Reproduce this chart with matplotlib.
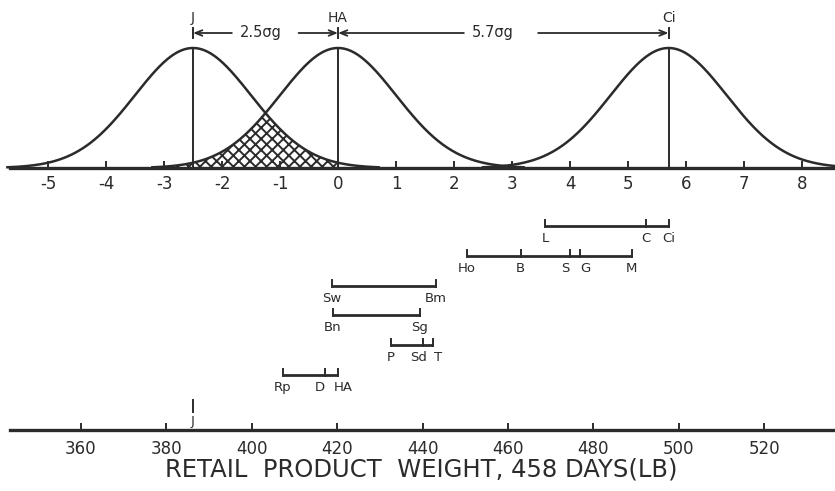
import numpy as np
import matplotlib
matplotlib.use("Agg")
import matplotlib.pyplot as plt

# ---------------- data ----------------
# upper panel: breed means on a genetic-standard-deviation scale
sigma_ticks = [-5, -4, -3, -2, -1, 0, 1, 2, 3, 4, 5, 6, 7, 8]
curve_names = ["J", "HA", "Ci"]
curve_means = [-2.5, 0.0, 5.7]
gap_labels = ["2.5\u03c3g", "5.7\u03c3g"]

# lower panel: retail product weight (lb) at 458 days, one range bar per group
weight_ticks = [360, 380, 400, 420, 440, 460, 480, 500, 520]
row_lc_names = ["L", "C", "Ci"]
row_lc_vals = [468.7, 492.3, 497.7]
row_ho_names = ["Ho", "B", "S", "G", "M"]
row_ho_vals = [450.4, 463.0, 474.5, 476.9, 489.0]
row_sw_names = ["Sw", "Bm"]
row_sw_vals = [418.8, 443.1]
row_bn_names = ["Bn", "Sg"]
row_bn_vals = [419.0, 439.4]
row_p_names = ["P", "Sd", "T"]
row_p_vals = [432.6, 440.1, 442.4]
row_rp_names = ["Rp", "D", "HA"]
row_rp_vals = [407.3, 417.1, 420.2]
single_name = "J"
single_val = 386.2
xlabel = "RETAIL  PRODUCT  WEIGHT, 458 DAYS(LB)"

# bottom row first
rows = [(row_rp_names, row_rp_vals), (row_p_names, row_p_vals),
        (row_bn_names, row_bn_vals), (row_sw_names, row_sw_vals),
        (row_ho_names, row_ho_vals), (row_lc_names, row_lc_vals)]

# ---------------- style ----------------
INK = "#2b2b2b"
plt.rcParams["font.family"] = ["DejaVu Sans"]
plt.rcParams["hatch.linewidth"] = 1.4
plt.rcParams["hatch.color"] = INK

W, H = 835, 491
fig = plt.figure(figsize=(W / 100, H / 100), dpi=100)
fig.patch.set_facecolor("white")

# ---------------- upper panel ----------------
px_per_sigma = 58.0
x0_px = 338.0
top_axis_px = 168.0
peak_px = 120.0
ax1 = fig.add_axes([0, (H - top_axis_px) / H, 1, top_axis_px / H])
ax1.set_xlim(-x0_px / px_per_sigma, (W - x0_px) / px_per_sigma)
ax1.set_ylim(0, top_axis_px / peak_px)
for s in ["top", "left", "right"]:
    ax1.spines[s].set_visible(False)
ax1.spines["bottom"].set_linewidth(2.4)
ax1.spines["bottom"].set_color(INK)
ax1.spines["bottom"].set_bounds((10 - x0_px) / px_per_sigma, (W - x0_px) / px_per_sigma)
ax1.set_yticks([])
ax1.set_xticks(sigma_ticks)
ax1.set_xticklabels([str(t) for t in sigma_ticks])
ax1.tick_params(axis="x", direction="in", length=5, width=1.4, pad=5,
                labelsize=12, colors=INK)
ax1.patch.set_alpha(0)


def gauss(x, mu):
    return np.exp(-0.5 * (x - mu) ** 2)


xmin, xmax = ax1.get_xlim()
for mu in curve_means:
    xs = np.linspace(max(mu - 3.2, xmin), min(mu + 3.2, xmax), 400)
    ax1.plot(xs, gauss(xs, mu), color=INK, lw=1.8, clip_on=False)
    ax1.plot([mu, mu], [0, 1], color=INK, lw=1.4)

# overlap between the first two distributions
xo = np.linspace(curve_means[0] - 0.5, curve_means[1], 300)
yo = np.minimum(gauss(xo, curve_means[0]), gauss(xo, curve_means[1]))
ax1.fill_between(xo, 0, yo, facecolor="white", edgecolor=INK, hatch="xxx", linewidth=0)

name_y = (top_axis_px - 18) / peak_px
arrow_y = (top_axis_px - 33) / peak_px
for name, mu in zip(curve_names, curve_means):
    ax1.text(mu, name_y, name, ha="center", va="center", fontsize=10, color=INK)
    ax1.plot([mu, mu], [arrow_y - 0.045, arrow_y + 0.045], color=INK, lw=1.4)

text_offsets = [-0.08, -0.18]
half_w = [0.5, 0.5]
gaps = [0.15, 0.28]
for i, lab in enumerate(gap_labels):
    a, b = curve_means[i], curve_means[i + 1]
    c = (a + b) / 2 + text_offsets[i]
    ax1.text(c, arrow_y, lab, ha="center", va="center", fontsize=10.5, color=INK)
    ax1.annotate("", xy=(a, arrow_y), xytext=(c - half_w[i], arrow_y),
                 arrowprops=dict(arrowstyle="->,head_length=0.5,head_width=0.2",
                                 color=INK, lw=1.3, shrinkA=0, shrinkB=0))
    ax1.annotate("", xy=(b, arrow_y), xytext=(c + half_w[i] + gaps[i], arrow_y),
                 arrowprops=dict(arrowstyle="->,head_length=0.5,head_width=0.2",
                                 color=INK, lw=1.3, shrinkA=0, shrinkB=0))

# ---------------- lower panel ----------------
px_per_lb = 4.27
x360_px = 81.0
bot_axis_px = 430.0
bot_top_px = 200.0
ax2 = fig.add_axes([0, (H - bot_axis_px) / H, 1, (bot_axis_px - bot_top_px) / H])
ax2.set_xlim(360 - x360_px / px_per_lb, 360 + (W - x360_px) / px_per_lb)
ax2.set_ylim(0, bot_axis_px - bot_top_px)
for s in ["top", "left", "right"]:
    ax2.spines[s].set_visible(False)
ax2.spines["bottom"].set_linewidth(2.4)
ax2.spines["bottom"].set_color(INK)
ax2.spines["bottom"].set_bounds(360 - (x360_px - 10) / px_per_lb, 360 + (W - x360_px) / px_per_lb)
ax2.set_yticks([])
ax2.set_xticks(weight_ticks)
ax2.tick_params(axis="x", direction="in", length=5, width=1.4, pad=7,
                labelsize=12, colors=INK)
ax2.set_xlabel(xlabel, fontsize=17.5, color=INK, labelpad=2)
ax2.xaxis.set_label_coords((421) / W, -(470 - bot_axis_px) / (bot_axis_px - bot_top_px))
ax2.xaxis.label.set_va("center")
ax2.patch.set_alpha(0)

row_base = 55.0
row_step = 29.8
close = 3.5  # lb: neighbouring labels nudged apart when closer than this
for k, (names, vals) in enumerate(rows):
    y = row_base + k * row_step
    ax2.plot([min(vals), max(vals)], [y, y], color=INK, lw=2.0, solid_capstyle="butt")
    for j, (n, v) in enumerate(zip(names, vals)):
        ax2.plot([v, v], [y - 1, y + 6], color=INK, lw=1.4)
        dx = 0
        if j + 1 < len(vals) and vals[j + 1] - v < close:
            dx -= 3.5
        if j > 0 and v - vals[j - 1] < close:
            dx += 3.5
        ax2.annotate(n, (v, y - 6), xytext=(dx, 0), textcoords="offset points",
                     ha="center", va="top", fontsize=9.5, color=INK)

ax2.plot([single_val, single_val], [18, 30], color=INK, lw=1.4)
ax2.text(single_val, 15, single_name, ha="center", va="top", fontsize=9.5, color=INK)

fig.savefig("out.png", dpi=100, facecolor="white")
